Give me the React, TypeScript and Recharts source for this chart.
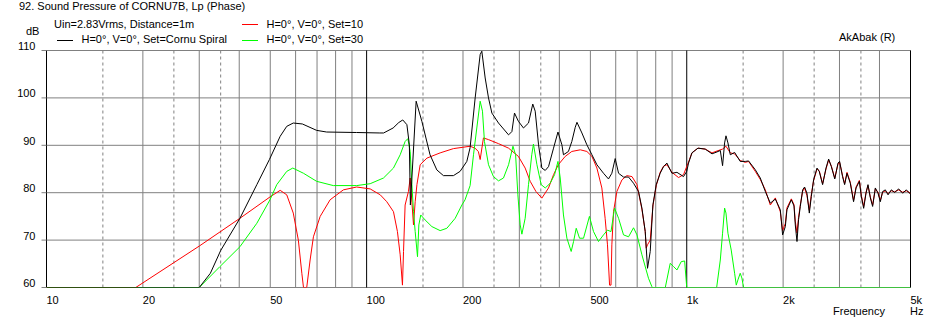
import React from 'react';
import { LineChart, Line, XAxis, YAxis, CartesianGrid, ReferenceLine } from 'recharts';

const font = '"Liberation Sans", Arial, sans-serif';

// axis ticks and grid positions (Hz / dB)
const xTicks = [10, 20, 50, 100, 200, 500, 1000, 2000, 5000];
const yTicks = [60, 70, 80, 90, 100, 110];
const solidLines = [20, 30, 40, 50, 60, 70, 80, 90, 200, 300, 400, 500, 600, 700, 800, 900, 2000, 3000, 4000];
const dashedLines = [15, 25, 35, 150, 250, 350, 1500, 2500, 3500];
const decadeLines = [10, 100, 1000, 5000];

// [frequency Hz, SPL dB] (clipped at 60 dB)
const cornuSpiral: [number, number][] = [
  [10, 60], [30, 60], [32.5, 63], [35, 67.8], [40.2, 74.6], [45.4, 81.7], [49.7, 87], [53.7, 91.9],
  [56.3, 94], [59, 94.7], [63, 94.5], [69.8, 93.15], [75, 92.8], [93, 92.7], [110, 92.6], [113, 92.6],
  [121, 93.65], [126, 94.8], [129.7, 95.35], [133.6, 94.35], [136, 90.1], [137, 77.4], [139, 85],
  [142.8, 99.3], [148.8, 95.05], [157.8, 88], [165.7, 84.8], [173.8, 83.6], [186.7, 83.6], [195.9, 84.5],
  [205.6, 86.6], [210.5, 89.5], [218.3, 100], [226.3, 109.15], [229, 109.85], [234.6, 104.2], [240.3, 100],
  [246.2, 96.8], [258.2, 94.7], [277.6, 92.2], [284.3, 92.9], [289.7, 96.8], [298, 95.05], [309, 93.65],
  [320.4, 94.7], [330.4, 98.7], [336.2, 97.2], [344.4, 90.1], [352.7, 85.2], [361.4, 84.7], [370, 85.5],
  [383.6, 89.4], [396, 92.8], [407.4, 90.1], [412, 88], [427, 88.7], [437.5, 90.8], [448.4, 93.8],
  [454, 94.85], [470.4, 92.6], [487.6, 90.1], [505.6, 88], [524, 85.9], [549.5, 84.1], [569.5, 82.9],
  [583.5, 84.1], [597.7, 87.2], [612.4, 84.1], [634.6, 83.3], [658, 83.3], [682, 82], [707, 80.25],
  [724.4, 76.75], [741.8, 71.8], [754.2, 64.05], [769, 67.6], [784, 77.45], [803, 81.7], [826, 84.1],
  [846.4, 85.5], [867, 86.25], [899, 84.1], [932, 84.3], [977, 83.4], [1000, 84.5], [1013, 86.25],
  [1038, 88.4], [1084, 89.4], [1142, 89.2], [1199, 88.2], [1243, 88.6], [1273, 88.9], [1294, 85.7],
  [1313, 90.5], [1326, 92], [1345, 90.5], [1368, 88], [1411, 88.5], [1469, 86.6], [1523, 86.6],
  [1560, 86.7], [1637, 84.85], [1697, 83.1], [1760, 80.25], [1824, 77.8], [1891, 78.65], [1960, 76.4],
  [1993, 71.1], [2032, 72.85], [2056, 76.4], [2122, 78.5], [2163, 77.2], [2183, 73.2], [2210, 69.7],
  [2235, 74.3], [2263, 77.1], [2302, 80.6], [2334, 81.2], [2374, 79.9], [2415, 75.7], [2450, 79.2],
  [2490, 82.7], [2552, 85.2], [2594, 84.5], [2657, 81.7], [2723, 85.2], [2775, 87.1], [2830, 85.5],
  [2900, 82.9], [2968, 86.25], [3003, 86.6], [3067, 83.4], [3113, 81.7], [3167, 84.1], [3243, 82],
  [3320, 78.1], [3380, 81], [3461, 82.4], [3511, 79.2], [3570, 76.7], [3631, 79.9], [3683, 81.7],
  [3746, 78.9], [3808, 77.1], [3882, 81], [3958, 79.9], [4025, 78.1], [4092, 80.25], [4172, 80.6],
  [4254, 79.55], [4355, 80.6], [4461, 80.05], [4592, 80.8], [4725, 79.9], [4853, 80.6], [5000, 79.7],
];

const set10: [number, number][] = [
  [10, 60], [19, 60], [30.1, 68.8], [40.2, 74.6], [49.9, 79.1], [53.7, 80.5], [56.3, 79.55], [59, 75.7],
  [61.2, 70], [62.75, 63], [63.5, 60], [65, 60], [66.6, 65.8], [68.2, 70.7], [71.6, 75], [76.9, 78.5],
  [84.6, 80.6], [93.1, 81.2], [102.6, 80.8], [110.3, 79.55], [115.6, 78.1], [121.3, 76], [124.8, 71.8],
  [127.3, 66.9], [129.4, 60.5], [130.4, 67.6], [131.9, 77.4], [135.1, 80.25], [136.8, 83.1], [138.5, 78],
  [140.1, 73.2], [141.8, 78.1], [143.6, 81.7], [147, 85.9], [154.3, 87.3], [169.7, 88.4], [186.7, 89.3],
  [210.5, 89.8], [218, 89.4], [223.4, 88.7], [226.3, 87], [231.7, 91.55], [240.3, 91.2], [258.2, 90.35],
  [277.6, 89.4], [298, 87.65], [312.8, 85.2], [324.3, 82.4], [338, 80.25], [352.7, 78.85], [370, 81],
  [383.6, 83.8], [397, 85.9], [417, 87.65], [437.5, 88.7], [465, 89.05], [487.6, 88.7], [505.6, 87.65],
  [524, 85.2], [543, 81], [556, 74.6], [565.5, 69], [574, 60.5], [580, 60.5], [583.5, 69], [590.6, 76],
  [605, 80.25], [627.4, 82.7], [650, 83.6], [674.5, 83.4], [699, 81.7], [724.4, 76.5], [741.8, 71.8],
  [747, 68.3], [754, 69], [769, 70], [784, 77.2], [803, 81.5], [826, 84.3], [846.4, 85.6], [867, 85.9],
  [899, 84.3], [942.6, 83.2], [977, 83.8], [1020, 87], [1038, 88.4], [1084, 89.4], [1142, 89.2],
  [1199, 88.4], [1243, 88.8], [1294, 89.2], [1326, 89.8], [1368, 88.4], [1411, 88.2], [1469, 86.8],
  [1523, 86.4], [1560, 86.6], [1637, 84.5], [1697, 82.8], [1760, 80.6], [1824, 77.4], [1891, 78.9],
  [1960, 76], [1993, 72], [2032, 73.5], [2056, 76.8], [2122, 78.7], [2163, 77.5], [2183, 74],
  [2210, 71.5], [2235, 74.8], [2263, 77.4], [2302, 80.3], [2334, 81], [2374, 79.4], [2415, 76.3],
  [2450, 79.6], [2490, 82.5], [2552, 85], [2594, 84.6], [2657, 81.9], [2723, 85], [2775, 86.9],
  [2830, 85.6], [2900, 83.1], [2968, 86], [3003, 86.4], [3067, 83.6], [3113, 81.9], [3167, 84.3],
  [3243, 82.2], [3320, 78.4], [3380, 81.2], [3461, 82.6], [3511, 79.4], [3570, 77.1], [3631, 80.1],
  [3683, 81.5], [3746, 79.1], [3808, 77.4], [3882, 80.8], [3958, 80.1], [4025, 78.4], [4092, 80.1],
  [4172, 80.4], [4254, 79.8], [4355, 80.4], [4461, 80.2], [4592, 80.6], [4725, 80.1], [4853, 80.4],
  [5000, 79.9],
];

const set30: [number, number][] = [
  [10, 60], [30, 60], [34.8, 64.4], [40.2, 68.6], [45.4, 73.55], [49.9, 78.5], [52.4, 81.7], [56.3, 84.5],
  [58.8, 85.2], [63.5, 84.1], [69.8, 82.4], [78.7, 81.5], [93.1, 81.5], [102.6, 81.9], [112.9, 83.1],
  [121.3, 85.2], [127.3, 88], [131.9, 90.8], [134.5, 91.4], [136.8, 88.7], [138.5, 81.7], [140.1, 76],
  [141.8, 71.8], [144.2, 66.5], [145.6, 73.2], [147.6, 75.3], [152.3, 74.25], [159.9, 72.85],
  [169.7, 72], [178.1, 72.5], [189.1, 74.6], [198.4, 77.4], [203, 78.5], [210.5, 81.5], [215.7, 88],
  [220.9, 93.65], [226.3, 99.3], [230.1, 97.2], [233.4, 90.8], [240.3, 85.9], [249, 83.4], [258.2, 82.5],
  [267.6, 83.1], [277.6, 85.9], [286.5, 89.8], [292, 88], [296.8, 79.55], [301.8, 73.2], [305.5, 71.25],
  [312.8, 74.6], [320.4, 81.7], [328, 88], [332, 90.25], [340.4, 85.9], [351, 81.7], [361.4, 81],
  [374.5, 82], [386.5, 83.8], [396, 86.6], [402.5, 83.1], [412, 75.3], [422.3, 70.4], [435.5, 67.6],
  [443, 69.7], [451.6, 72.5], [462.5, 70.4], [476, 70.4], [496.6, 75], [511.5, 71.8], [530, 69.7],
  [549.5, 71.1], [565.5, 72.1], [580, 71.8], [595, 76.75], [612.4, 74.6], [634.6, 71.1], [658, 70.7],
  [682, 72.6], [699, 71.1], [724.4, 66.9], [759.5, 61.95], [778, 60.2], [780, 60], [857, 60],
  [888, 65.1], [910, 64.4], [932, 63.7], [961, 65.45], [985, 65.6], [1000, 60], [1240, 60],
  [1273, 65.8], [1294, 71.45], [1313, 76.75], [1326, 75.7], [1345, 71.45], [1377, 67.9], [1411, 63],
  [1428, 60.5], [1445, 61.6], [1469, 63], [1487, 62], [1505, 60], [5000, 60],
];

const toRows = (pts: [number, number][]) => pts.map(([f, v]) => ({ f, v }));

const fmtHz = (v: number) => (v >= 1000 ? `${v / 1000}k` : `${v}`);

const XTick = ({ x, payload }: any) => (
  <text x={x} y={303.5} fontSize={11} fontFamily={font} fill="#000" textAnchor="start">
    {fmtHz(payload.value)}
  </text>
);

const YTick = ({ y, payload }: any) => (
  <text x={35.5} y={y - 0.5} fontSize={11} fontFamily={font} fill="#000" textAnchor="end">
    {payload.value}
  </text>
);

const txt = (left: number, top: number, s: string) => (
  <div
    style={{
      position: 'absolute', left, top, fontSize: 11, lineHeight: '13px',
      fontFamily: font, color: '#000', whiteSpace: 'nowrap',
    }}
  >
    {s}
  </div>
);

const swatch = (left: number, top: number, color: string) => (
  <div style={{ position: 'absolute', left, top, width: 16, height: 1, background: color }} />
);

export default function App() {
  return (
    <div style={{ position: 'absolute', left: 0, top: 0, width: 937, height: 324, background: '#fff' }}>
      <LineChart
        width={937}
        height={324}
        margin={{ top: 50.5, right: 26.5, left: 6.5, bottom: 6.5 }}
      >
        <CartesianGrid vertical={false} stroke="#808080" />
        {solidLines.map((f) => (
          <ReferenceLine key={`s-${f}`} x={f} stroke="#808080" strokeWidth={1} />
        ))}
        {dashedLines.map((f) => (
          <ReferenceLine key={`d-${f}`} x={f} stroke="#808080" strokeWidth={1} strokeDasharray="3 3" />
        ))}
        <ReferenceLine y={110} stroke="#808080" />
        <ReferenceLine y={60} stroke="#808080" />
        {decadeLines.map((f) => (
          <ReferenceLine key={`k-${f}`} x={f} stroke="#000" strokeWidth={1} />
        ))}
        <XAxis
          dataKey="f"
          type="number"
          scale="log"
          domain={[10, 5000]}
          ticks={xTicks}
          allowDataOverflow
          axisLine={false}
          tickLine={false}
          tickSize={0}
          tickMargin={0}
          height={30}
          tick={<XTick />}
        />
        <YAxis
          type="number"
          domain={[60, 110]}
          ticks={yTicks}
          allowDataOverflow
          axisLine={false}
          tickLine={{ stroke: '#808080' }}
          tickSize={5}
          width={40}
          tick={<YTick />}
        />
        <Line data={toRows(set10)} dataKey="v" type="linear" stroke="#ff0000" strokeWidth={1} dot={false} isAnimationActive={false} />
        <Line data={toRows(set30)} dataKey="v" type="linear" stroke="#00ff00" strokeWidth={1} dot={false} isAnimationActive={false} />
        <Line data={toRows(cornuSpiral)} dataKey="v" type="linear" stroke="#000000" strokeWidth={1} dot={false} isAnimationActive={false} />
      </LineChart>

      {txt(19, 0, '92. Sound Pressure of CORNU7B, Lp (Phase)')}
      {txt(54, 17.5, 'Uin=2.83Vrms, Distance=1m')}
      {swatch(57, 40, '#000')}
      {txt(81.5, 33, 'H=0°, V=0°, Set=Cornu Spiral')}
      {swatch(242, 24, '#ff0000')}
      {txt(266.5, 17.5, 'H=0°, V=0°, Set=10')}
      {swatch(242, 40, '#00ff00')}
      {txt(266.5, 33, 'H=0°, V=0°, Set=30')}
      {txt(26, 24.5, 'dB')}
      {txt(839, 31, 'AkAbak (R)')}
      {txt(833, 305, 'Frequency')}
      {txt(910, 305, 'Hz')}
    </div>
  );
}
